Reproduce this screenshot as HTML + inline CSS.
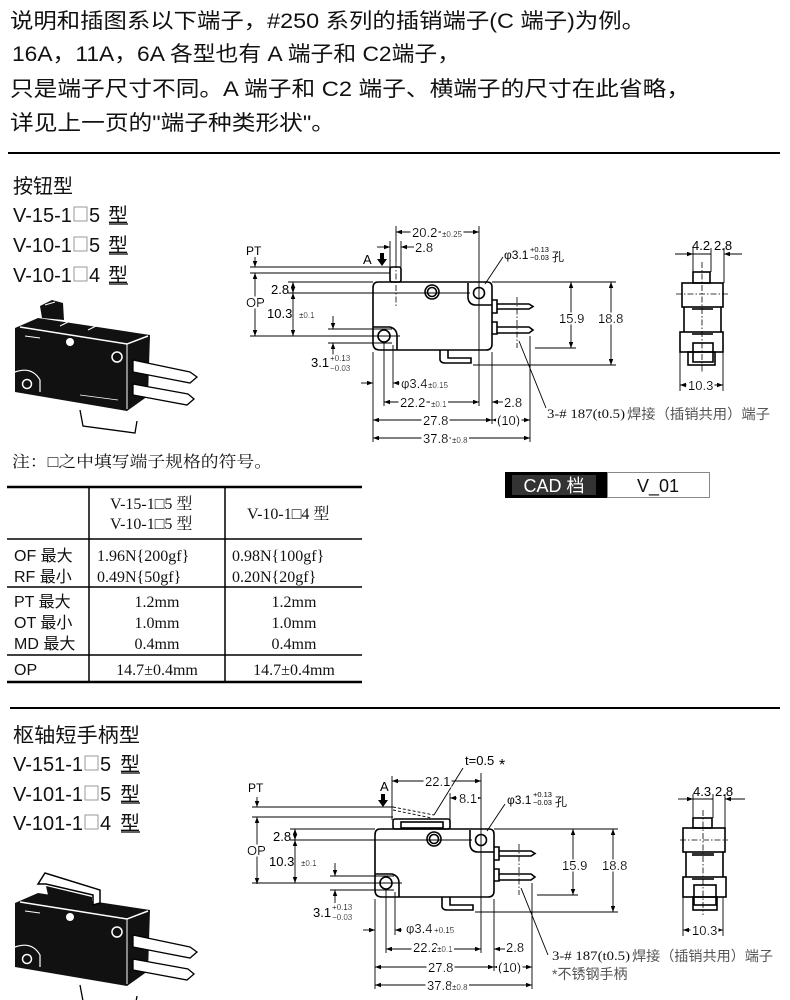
<!DOCTYPE html>
<html><head><meta charset="utf-8">
<style>
html,body{margin:0;padding:0;background:#fff;}
svg{display:block;}
.tx{font-family:"Liberation Sans","Noto Sans CJK SC",sans-serif;fill:#111;}
.sr{font-family:"Liberation Serif","Noto Serif CJK SC",serif;fill:#111;}
.ln{stroke:#000;stroke-width:0.9;fill:none;}
.ol{stroke:#000;stroke-width:1.6;fill:none;}
.dash{stroke:#000;stroke-width:0.8;fill:none;stroke-dasharray:6 2 1.5 2;}
.dm{font-family:"Liberation Sans",sans-serif;font-size:13px;fill:#000;filter:url(#bg);}
.dn{font-family:"Liberation Sans",sans-serif;font-size:13px;fill:#000;}
.sm{font-family:"Liberation Sans",sans-serif;font-size:8px;fill:#000;filter:url(#bg);}
.nt{font-family:"Liberation Sans","Noto Sans CJK SC",sans-serif;fill:#555;}
</style></head>
<body>
<svg width="790" height="1000" viewBox="0 0 790 1000" xmlns="http://www.w3.org/2000/svg">
<defs>
<marker id="ar" viewBox="0 0 8 6" refX="8" refY="3" markerWidth="6" markerHeight="4.5" markerUnits="userSpaceOnUse" orient="auto-start-reverse"><path d="M0,0L8,3L0,6z" fill="#000"/></marker>
<filter id="bg" x="-0.04" y="0.1" width="1.08" height="0.8"><feFlood flood-color="#fff"/><feComposite in="SourceGraphic" operator="over"/></filter>
</defs>

<!-- ===== Top text ===== -->
<g class="tx" font-size="21">
<text x="10" y="28" textLength="635" lengthAdjust="spacingAndGlyphs">说明和插图系以下端子，#250 系列的插销端子(C 端子)为例。</text>
<text x="12" y="61" textLength="448" lengthAdjust="spacingAndGlyphs">16A，11A，6A 各型也有 A 端子和 C2端子，</text>
<text x="10" y="96" textLength="680" lengthAdjust="spacingAndGlyphs">只是端子尺寸不同。A 端子和 C2 端子、横端子的尺寸在此省略，</text>
<text x="10" y="130" textLength="325" lengthAdjust="spacingAndGlyphs">详见上一页的"端子种类形状"。</text>
</g>
<line x1="8" y1="153" x2="780" y2="153" stroke="#000" stroke-width="2"/>

<!-- ===== Section 1 titles ===== -->
<g class="tx" font-size="20">
<text x="13" y="193" textLength="60" lengthAdjust="spacingAndGlyphs">按钮型</text>
<text x="13" y="222">V-15-1</text><rect x="74" y="207" width="13" height="14" fill="none" stroke="#999" stroke-width="1"/><text x="89" y="222">5</text><text x="108" y="222">型</text><line x1="109" y1="224" x2="128" y2="224" stroke="#000" stroke-width="1.2"/>
<text x="13" y="252">V-10-1</text><rect x="74" y="237" width="13" height="14" fill="none" stroke="#999" stroke-width="1"/><text x="89" y="252">5</text><text x="108" y="252">型</text><line x1="109" y1="254" x2="128" y2="254" stroke="#000" stroke-width="1.2"/>
<text x="13" y="282">V-10-1</text><rect x="74" y="267" width="13" height="14" fill="none" stroke="#999" stroke-width="1"/><text x="89" y="282">4</text><text x="108" y="282">型</text><line x1="109" y1="284" x2="128" y2="284" stroke="#000" stroke-width="1.2"/>
</g>

<!-- ===== Photo 1 ===== -->
<g id="ph1">
<polygon points="40,306 52,300 63,303 64,320 42,318" fill="#111"/>
<line x1="45" y1="305" x2="55" y2="302" stroke="#fff" stroke-width="1"/>
<polygon points="15,328 38,318 150,335 148,396 127,411 15,392" fill="#111"/>
<polyline points="20,327 127,344 148,336" stroke="#fff" fill="none" stroke-width="1.5"/>
<line x1="127" y1="344" x2="127" y2="409" stroke="#fff" stroke-width="1"/>
<line x1="60" y1="326" x2="68" y2="322" stroke="#fff" stroke-width="1"/>
<line x1="88" y1="330" x2="96" y2="326" stroke="#fff" stroke-width="1"/>
<circle cx="117" cy="357" r="5" stroke="#fff" fill="none" stroke-width="1.5"/>
<circle cx="70" cy="342" r="4" fill="#fff"/>
<path d="M15,372 Q32,366 40,380 L40,392" stroke="#fff" fill="none" stroke-width="1.2"/>
<circle cx="27" cy="384" r="4.5" stroke="#fff" fill="none" stroke-width="1.5"/>
<line x1="25" y1="336" x2="40" y2="338" stroke="#fff" stroke-width="1"/>
<line x1="80" y1="395" x2="118" y2="400" stroke="#fff" stroke-width="0.8"/>
<polygon points="133,360 190,372 197,377 190,383 133,372" fill="#fff" stroke="#000" stroke-width="1.3"/>
<polygon points="133,384 188,394 194,399 187,405 133,395" fill="#fff" stroke="#000" stroke-width="1.3"/>
<path d="M80,410 L83,426 L135,433 L137,421" fill="#fff" stroke="#000" stroke-width="1.3"/>
</g>

<text x="12" y="467" class="sr" font-size="16" fill="#333" textLength="260" lengthAdjust="spacingAndGlyphs">注：□之中填写端子规格的符号。</text>

<!-- ===== Table ===== -->
<g stroke="#000" fill="none">
<line x1="7" y1="487" x2="362" y2="487" stroke-width="2.5"/>
<line x1="7" y1="539" x2="362" y2="539" stroke-width="1.5"/>
<line x1="7" y1="587" x2="362" y2="587" stroke-width="1.5"/>
<line x1="7" y1="655" x2="362" y2="655" stroke-width="1.5"/>
<line x1="7" y1="682" x2="362" y2="682" stroke-width="2.5"/>
<line x1="89" y1="487" x2="89" y2="682" stroke-width="1.5"/>
<line x1="225" y1="487" x2="225" y2="682" stroke-width="1.5"/>
</g>
<g class="sr" font-size="16">
<text x="110" y="509">V-15-1□5 型</text>
<text x="110" y="529">V-10-1□5 型</text>
<text x="247" y="519">V-10-1□4 型</text>
<text x="97" y="561">1.96N{200gf}</text>
<text x="97" y="582">0.49N{50gf}</text>
<text x="232" y="561">0.98N{100gf}</text>
<text x="232" y="582">0.20N{20gf}</text>
<g text-anchor="middle">
<text x="157" y="607">1.2mm</text><text x="294" y="607">1.2mm</text>
<text x="157" y="628">1.0mm</text><text x="294" y="628">1.0mm</text>
<text x="157" y="649">0.4mm</text><text x="294" y="649">0.4mm</text>
<text x="157" y="675">14.7±0.4mm</text><text x="294" y="675">14.7±0.4mm</text>
</g>
</g>
<g class="tx" font-size="16">
<text x="14" y="561">OF 最大</text>
<text x="14" y="582">RF 最小</text>
<text x="14" y="607">PT 最大</text>
<text x="14" y="628">OT 最小</text>
<text x="14" y="649">MD 最大</text>
<text x="14" y="675">OP</text>
</g>

<!-- ===== CAD box ===== -->
<rect x="505" y="472" width="102" height="26" fill="#000"/>
<rect x="512" y="475" width="84" height="20" fill="#333"/>
<text x="554" y="492" text-anchor="middle" class="tx" font-size="18" style="fill:#fff">CAD 档</text>
<rect x="607.5" y="472.5" width="102" height="25" fill="#fff" stroke="#888" stroke-width="1"/>
<text x="658" y="492" text-anchor="middle" class="tx" font-size="18">V_01</text>

<!-- ===== Drawing 1: common geometry ===== -->
<g id="c1">
<path class="ol" d="M378,282 H487 Q492,282 492,287 V344 Q492,350 486,350 H380 Q373,350 373,343 V288 Q373,282 378,282 Z"/>
<path class="ol" d="M373,327 H390 Q397,329 397,336 V350" stroke-width="1.3"/>
<path class="ol" d="M468,283 V298 Q469,305 476,305 H492" stroke-width="1.3"/>
<circle cx="432" cy="292" r="7" class="ol" stroke-width="1.3"/>
<circle cx="432" cy="292" r="4.5" class="ol" stroke-width="1.2"/>
<circle cx="479" cy="293" r="5.5" class="ol" stroke-width="1.3"/>
<circle cx="384" cy="336" r="6" class="ol" stroke-width="1.3"/>
<path class="ol" stroke-width="1.2" d="M492,300 H497 V313 H492"/>
<path class="ol" stroke-width="1.2" d="M497,304 H529 L533,306.5 L529,309 H497"/>
<path class="ol" stroke-width="1.2" d="M492,322 H497 V334 H492"/>
<path class="ol" stroke-width="1.2" d="M497,327 H529 L533,330 L529,333 H497"/>
<path class="ol" stroke-width="1.3" d="M440,350 V360 Q441,363 445,363 H471 V358 H448 V350"/>
<line x1="517" y1="297" x2="517" y2="348" class="dash"/>
<line x1="288" y1="282" x2="373" y2="282" class="ln"/>
<line x1="288" y1="293" x2="470" y2="293" class="ln"/>
<line x1="250" y1="336" x2="400" y2="336" class="ln"/>
<path class="ln" d="M293,282V293" marker-start="url(#ar)" marker-end="url(#ar)"/>
<path class="ln" d="M293,293V336" marker-start="url(#ar)" marker-end="url(#ar)"/>
<line x1="328" y1="329" x2="392" y2="329" class="ln"/>
<line x1="328" y1="343" x2="392" y2="343" class="ln"/>
<path class="ln" d="M333,316V329" marker-end="url(#ar)"/>
<path class="ln" d="M333,356V343" marker-end="url(#ar)"/>
<line x1="373" y1="352" x2="373" y2="442" class="ln"/>
<line x1="384" y1="343" x2="384" y2="406" class="ln"/>
<line x1="393" y1="345" x2="393" y2="388" class="ln"/>
<line x1="479" y1="226" x2="479" y2="406" class="ln"/>
<line x1="492" y1="352" x2="492" y2="424" class="ln"/>
<line x1="530" y1="336" x2="530" y2="442" class="ln"/>
<path class="ln" d="M361,383H373" marker-end="url(#ar)"/>
<path class="ln" d="M400,383H393" marker-end="url(#ar)"/>
<path class="ln" d="M384,402H479" marker-start="url(#ar)" marker-end="url(#ar)"/>
<path class="ln" d="M503,402H492" marker-end="url(#ar)"/>
<path class="ln" d="M373,420H492" marker-start="url(#ar)" marker-end="url(#ar)"/>
<path class="ln" d="M492,420H530" marker-start="url(#ar)" marker-end="url(#ar)"/>
<path class="ln" d="M373,438H530" marker-start="url(#ar)" marker-end="url(#ar)"/>
<line x1="492" y1="282" x2="616" y2="282" class="ln"/>
<line x1="535" y1="348" x2="576" y2="348" class="ln"/>
<line x1="473" y1="365" x2="616" y2="365" class="ln"/>
<path class="ln" d="M571,282V348" marker-start="url(#ar)" marker-end="url(#ar)"/>
<path class="ln" d="M611,282V365" marker-start="url(#ar)" marker-end="url(#ar)"/>
<line x1="485" y1="284" x2="503" y2="257" class="ln"/>
<line x1="519" y1="341" x2="546" y2="408" class="ln"/>
</g>

<!-- Drawing 1 specific -->
<rect x="390" y="267" width="11" height="15" rx="2" class="ol" stroke-width="1.4"/>
<line x1="396" y1="262" x2="396" y2="306" class="dash"/>
<line x1="396" y1="226" x2="396" y2="262" class="ln"/>
<path class="ln" d="M396,232H479" marker-start="url(#ar)" marker-end="url(#ar)"/>
<line x1="390" y1="241" x2="390" y2="267" class="ln"/>
<line x1="401" y1="241" x2="401" y2="267" class="ln"/>
<path class="ln" d="M377,247H390" marker-end="url(#ar)"/>
<path class="ln" d="M414,247H401" marker-end="url(#ar)"/>
<line x1="250" y1="267" x2="390" y2="267" class="ln"/>
<line x1="250" y1="273" x2="390" y2="273" class="ln"/>
<path class="ln" d="M255,257V267" marker-end="url(#ar)"/>
<path class="ln" d="M255,273V336" marker-start="url(#ar)" marker-end="url(#ar)"/>
<path d="M380,253h4v6h3l-5,7l-5,-7h3z" fill="#000"/>

<g>
<text x="412" y="237" class="dm">20.2</text><text x="442" y="237" class="sm">±0.25</text>
<text x="415" y="252" class="dm">2.8</text>
<text x="363" y="264" class="dn">A</text>
<text x="246" y="255" class="dn" style="font-size:12px">PT</text>
<text x="246" y="307" class="dm">OP</text>
<text x="271" y="294" class="dn">2.8</text>
<text x="267" y="318" class="dn">10.3</text><text x="299" y="318" class="sm">±0.1</text>
<text x="311" y="367" class="dn">3.1</text><text x="330" y="361" class="sm">+0.13</text><text x="330" y="371" class="sm">−0.03</text>
<text x="401" y="388" class="dm">φ3.4</text><text x="428" y="388" class="sm">±0.15</text>
<text x="400" y="407" class="dm">22.2</text><text x="431" y="407" class="sm">±0.1</text>
<text x="504" y="407" class="dm">2.8</text>
<text x="423" y="425" class="dm">27.8</text>
<text x="497" y="425" class="dm">(10)</text>
<text x="423" y="443" class="dm">37.8</text><text x="452" y="443" class="sm">±0.8</text>
<text x="559" y="323" class="dm">15.9</text>
<text x="598" y="323" class="dm">18.8</text>
<text x="504" y="259" class="dn" style="font-size:12px">φ3.1</text><text x="530" y="252" class="dn" style="font-size:7.5px">+0.13</text><text x="530" y="260" class="dn" style="font-size:7.5px">−0.03</text><text x="552" y="261" class="tx" style="font-size:12px">孔</text>
<text x="547" y="418" class="sr" font-size="13" textLength="78" lengthAdjust="spacingAndGlyphs">3-# 187(t0.5)</text>
<text x="627" y="419" class="nt" font-size="14" textLength="143" lengthAdjust="spacingAndGlyphs">焊接（插销共用）端子</text>
</g>

<!-- Side view 1 -->
<g class="ol" stroke-width="1.3">
<rect x="693" y="272" width="17" height="11"/>
<rect x="682" y="283" width="41" height="24"/>
<path d="M684,307V332M721,307V332"/>
<rect x="680" y="332" width="43" height="20"/>
<rect x="688" y="352" width="27" height="13"/>
<rect x="693" y="343" width="20" height="19"/>
</g>
<rect x="692" y="306" width="21" height="4" fill="#333"/>
<rect x="692" y="331" width="21" height="4" fill="#333"/>
<line x1="676" y1="294" x2="728" y2="294" class="dash"/>
<line x1="702" y1="262" x2="702" y2="372" class="dash"/>
<line x1="693" y1="248" x2="693" y2="283" class="ln"/>
<line x1="711" y1="248" x2="711" y2="272" class="ln"/>
<line x1="724" y1="248" x2="724" y2="283" class="ln"/>
<path class="ln" d="M675,254H693" marker-end="url(#ar)"/>
<path class="ln" d="M693,254H711"/>
<path class="ln" d="M742,254H724" marker-end="url(#ar)"/>
<line x1="680" y1="352" x2="680" y2="391" class="ln"/>
<line x1="723" y1="352" x2="723" y2="391" class="ln"/>
<path class="ln" d="M680,385H723" marker-start="url(#ar)" marker-end="url(#ar)"/>
<text x="692" y="250" class="dn">4.2</text><text x="714" y="250" class="dn">2.8</text>
<text x="688" y="390" class="dm">10.3</text>

<!-- ===== Section 2 ===== -->
<line x1="10" y1="708" x2="780" y2="708" stroke="#000" stroke-width="2"/>
<g class="tx" font-size="20">
<text x="13" y="742" textLength="127" lengthAdjust="spacingAndGlyphs">枢轴短手柄型</text>
<text x="13" y="771">V-151-1</text><rect x="85" y="756" width="13" height="14" fill="none" stroke="#999" stroke-width="1"/><text x="100" y="771">5</text><text x="120" y="771">型</text><line x1="121" y1="773" x2="140" y2="773" stroke="#000" stroke-width="1.2"/>
<text x="13" y="801">V-101-1</text><rect x="85" y="786" width="13" height="14" fill="none" stroke="#999" stroke-width="1"/><text x="100" y="801">5</text><text x="120" y="801">型</text><line x1="121" y1="803" x2="140" y2="803" stroke="#000" stroke-width="1.2"/>
<text x="13" y="830">V-101-1</text><rect x="85" y="815" width="13" height="14" fill="none" stroke="#999" stroke-width="1"/><text x="100" y="830">4</text><text x="120" y="830">型</text><line x1="121" y1="832" x2="140" y2="832" stroke="#000" stroke-width="1.2"/>
</g>

<!-- Photo 2 -->
<g transform="translate(0,575)">
<polygon points="15,328 38,318 150,335 148,396 127,411 15,392" fill="#111"/>
<polyline points="20,327 127,344 148,336" stroke="#fff" fill="none" stroke-width="1.5"/>
<line x1="127" y1="344" x2="127" y2="409" stroke="#fff" stroke-width="1"/>
<circle cx="117" cy="357" r="5" stroke="#fff" fill="none" stroke-width="1.5"/>
<circle cx="70" cy="342" r="4" fill="#fff"/>
<path d="M15,372 Q32,366 40,380 L40,392" stroke="#fff" fill="none" stroke-width="1.2"/>
<circle cx="27" cy="384" r="4.5" stroke="#fff" fill="none" stroke-width="1.5"/>
<line x1="25" y1="336" x2="40" y2="338" stroke="#fff" stroke-width="1"/>
<polygon points="133,360 190,372 197,377 190,383 133,372" fill="#fff" stroke="#000" stroke-width="1.3"/>
<polygon points="133,384 188,394 194,399 187,405 133,395" fill="#fff" stroke="#000" stroke-width="1.3"/>
<path d="M80,410 L83,426 L135,433 L137,421" fill="#fff" stroke="#000" stroke-width="1.3"/>
</g>
<polygon points="38,884 45,873 100,890 100,903 93,905 93,895 46,884" fill="#fff" stroke="#000" stroke-width="1.5"/>
<polygon points="46,886 92,897 92,905 48,895" fill="#111"/>

<!-- Drawing 2 common (shifted) -->
<g transform="translate(2,547)">
<path class="ol" d="M378,282 H487 Q492,282 492,287 V344 Q492,350 486,350 H380 Q373,350 373,343 V288 Q373,282 378,282 Z"/>
<path class="ol" d="M373,327 H390 Q397,329 397,336 V350" stroke-width="1.3"/>
<path class="ol" d="M468,283 V298 Q469,305 476,305 H492" stroke-width="1.3"/>
<circle cx="432" cy="292" r="7" class="ol" stroke-width="1.3"/>
<circle cx="432" cy="292" r="4.5" class="ol" stroke-width="1.2"/>
<circle cx="479" cy="293" r="5.5" class="ol" stroke-width="1.3"/>
<circle cx="384" cy="336" r="6" class="ol" stroke-width="1.3"/>
<path class="ol" stroke-width="1.2" d="M492,300 H497 V313 H492"/>
<path class="ol" stroke-width="1.2" d="M497,304 H529 L533,306.5 L529,309 H497"/>
<path class="ol" stroke-width="1.2" d="M492,322 H497 V334 H492"/>
<path class="ol" stroke-width="1.2" d="M497,327 H529 L533,330 L529,333 H497"/>
<path class="ol" stroke-width="1.3" d="M440,350 V360 Q441,363 445,363 H471 V358 H448 V350"/>
<line x1="517" y1="297" x2="517" y2="348" class="dash"/>
<line x1="288" y1="282" x2="373" y2="282" class="ln"/>
<line x1="288" y1="293" x2="470" y2="293" class="ln"/>
<line x1="250" y1="336" x2="400" y2="336" class="ln"/>
<path class="ln" d="M293,282V293" marker-start="url(#ar)" marker-end="url(#ar)"/>
<path class="ln" d="M293,293V336" marker-start="url(#ar)" marker-end="url(#ar)"/>
<line x1="328" y1="329" x2="392" y2="329" class="ln"/>
<line x1="328" y1="343" x2="392" y2="343" class="ln"/>
<path class="ln" d="M333,316V329" marker-end="url(#ar)"/>
<path class="ln" d="M333,356V343" marker-end="url(#ar)"/>
<line x1="373" y1="352" x2="373" y2="442" class="ln"/>
<line x1="384" y1="343" x2="384" y2="406" class="ln"/>
<line x1="393" y1="345" x2="393" y2="388" class="ln"/>
<line x1="479" y1="226" x2="479" y2="406" class="ln"/>
<line x1="492" y1="352" x2="492" y2="424" class="ln"/>
<line x1="530" y1="336" x2="530" y2="442" class="ln"/>
<path class="ln" d="M361,383H373" marker-end="url(#ar)"/>
<path class="ln" d="M400,383H393" marker-end="url(#ar)"/>
<path class="ln" d="M384,402H479" marker-start="url(#ar)" marker-end="url(#ar)"/>
<path class="ln" d="M503,402H492" marker-end="url(#ar)"/>
<path class="ln" d="M373,420H492" marker-start="url(#ar)" marker-end="url(#ar)"/>
<path class="ln" d="M492,420H530" marker-start="url(#ar)" marker-end="url(#ar)"/>
<path class="ln" d="M373,438H530" marker-start="url(#ar)" marker-end="url(#ar)"/>
<line x1="492" y1="282" x2="616" y2="282" class="ln"/>
<line x1="535" y1="348" x2="576" y2="348" class="ln"/>
<line x1="473" y1="365" x2="616" y2="365" class="ln"/>
<path class="ln" d="M571,282V348" marker-start="url(#ar)" marker-end="url(#ar)"/>
<path class="ln" d="M611,282V365" marker-start="url(#ar)" marker-end="url(#ar)"/>
<line x1="485" y1="284" x2="503" y2="257" class="ln"/>
<line x1="519" y1="341" x2="546" y2="408" class="ln"/>
</g>

<!-- Drawing 2 specific -->
<rect x="393" y="819" width="57" height="10" rx="2" class="ol" stroke-width="1.4"/>
<rect x="401" y="822" width="42" height="6" class="ol" stroke-width="1"/>
<path d="M393,807 L434,815" stroke="#000" stroke-width="0.9" stroke-dasharray="3 2" fill="none"/>
<path d="M393,810 L432,818" stroke="#000" stroke-width="0.9" stroke-dasharray="3 2" fill="none"/>
<line x1="434" y1="815" x2="463" y2="768" class="ln"/>
<line x1="392" y1="776" x2="392" y2="820" class="ln"/>
<line x1="450" y1="793" x2="450" y2="820" class="ln"/>
<path class="ln" d="M392,781H481" marker-start="url(#ar)" marker-end="url(#ar)"/>
<path class="ln" d="M457,798H450" marker-end="url(#ar)"/>
<path class="ln" d="M475,798H481" marker-end="url(#ar)"/>
<line x1="252" y1="807" x2="393" y2="807" class="ln"/>
<line x1="252" y1="817" x2="393" y2="817" class="ln"/>
<path class="ln" d="M257,797V807" marker-end="url(#ar)"/>
<path class="ln" d="M257,817V884" marker-start="url(#ar)" marker-end="url(#ar)"/>
<path d="M381,794h4v6h3l-5,7l-5,-7h3z" fill="#000"/>

<g>
<text x="465" y="765" class="dn">t=0.5</text><text x="499" y="770" class="dn" style="font-size:16px">*</text>
<text x="425" y="786" class="dm">22.1</text>
<text x="459" y="803" class="dm">8.1</text>
<text x="380" y="791" class="dn">A</text>
<text x="248" y="792" class="dn" style="font-size:12px">PT</text>
<text x="247" y="855" class="dm">OP</text>
<text x="273" y="841" class="dn">2.8</text>
<text x="269" y="866" class="dn">10.3</text><text x="301" y="866" class="sm">±0.1</text>
<text x="313" y="917" class="dn">3.1</text><text x="332" y="910" class="sm">+0.13</text><text x="332" y="920" class="sm">−0.03</text>
<text x="406" y="933" class="dm">φ3.4</text><text x="434" y="933" class="sm">+0.15</text>
<text x="413" y="952" class="dm">22.2</text><text x="437" y="952" class="sm">±0.1</text>
<text x="506" y="952" class="dm">2.8</text>
<text x="428" y="972" class="dm">27.8</text>
<text x="498" y="972" class="dm">(10)</text>
<text x="427" y="990" class="dm">37.8</text><text x="452" y="990" class="sm">±0.8</text>
<text x="562" y="870" class="dm">15.9</text>
<text x="602" y="870" class="dm">18.8</text>
<text x="507" y="804" class="dn" style="font-size:12px">φ3.1</text><text x="533" y="797" class="dn" style="font-size:7.5px">+0.13</text><text x="533" y="805" class="dn" style="font-size:7.5px">−0.03</text><text x="555" y="806" class="tx" style="font-size:12px">孔</text>
<text x="552" y="960" class="sr" font-size="13" textLength="78" lengthAdjust="spacingAndGlyphs">3-# 187(t0.5)</text>
<text x="632" y="961" class="nt" font-size="14" textLength="141" lengthAdjust="spacingAndGlyphs">焊接（插销共用）端子</text>
<text x="552" y="979" class="nt" font-size="14">*不锈钢手柄</text>
</g>

<!-- Side view 2 -->
<g class="ol" stroke-width="1.3">
<rect x="693" y="818" width="19" height="10"/>
<rect x="683" y="828" width="42" height="24"/>
<path d="M686,852V877M723,852V877"/>
<rect x="683" y="877" width="43" height="20"/>
<rect x="693" y="897" width="24" height="13"/>
<rect x="694" y="885" width="22" height="20"/>
</g>
<rect x="692" y="852" width="22" height="4" fill="#333"/>
<rect x="692" y="876" width="22" height="4" fill="#333"/>
<line x1="680" y1="840" x2="728" y2="840" class="dash"/>
<line x1="703" y1="810" x2="703" y2="915" class="dash"/>
<line x1="693" y1="794" x2="693" y2="828" class="ln"/>
<line x1="713" y1="794" x2="713" y2="818" class="ln"/>
<line x1="725" y1="794" x2="725" y2="828" class="ln"/>
<path class="ln" d="M678,799H693" marker-end="url(#ar)"/>
<path class="ln" d="M693,799H713"/>
<path class="ln" d="M745,799H725" marker-end="url(#ar)"/>
<line x1="683" y1="897" x2="683" y2="936" class="ln"/>
<line x1="723" y1="897" x2="723" y2="936" class="ln"/>
<path class="ln" d="M683,930H723" marker-start="url(#ar)" marker-end="url(#ar)"/>
<text x="693" y="796" class="dn">4.3</text><text x="715" y="796" class="dn">2.8</text>
<text x="692" y="935" class="dm">10.3</text>
</svg>
</body></html>
